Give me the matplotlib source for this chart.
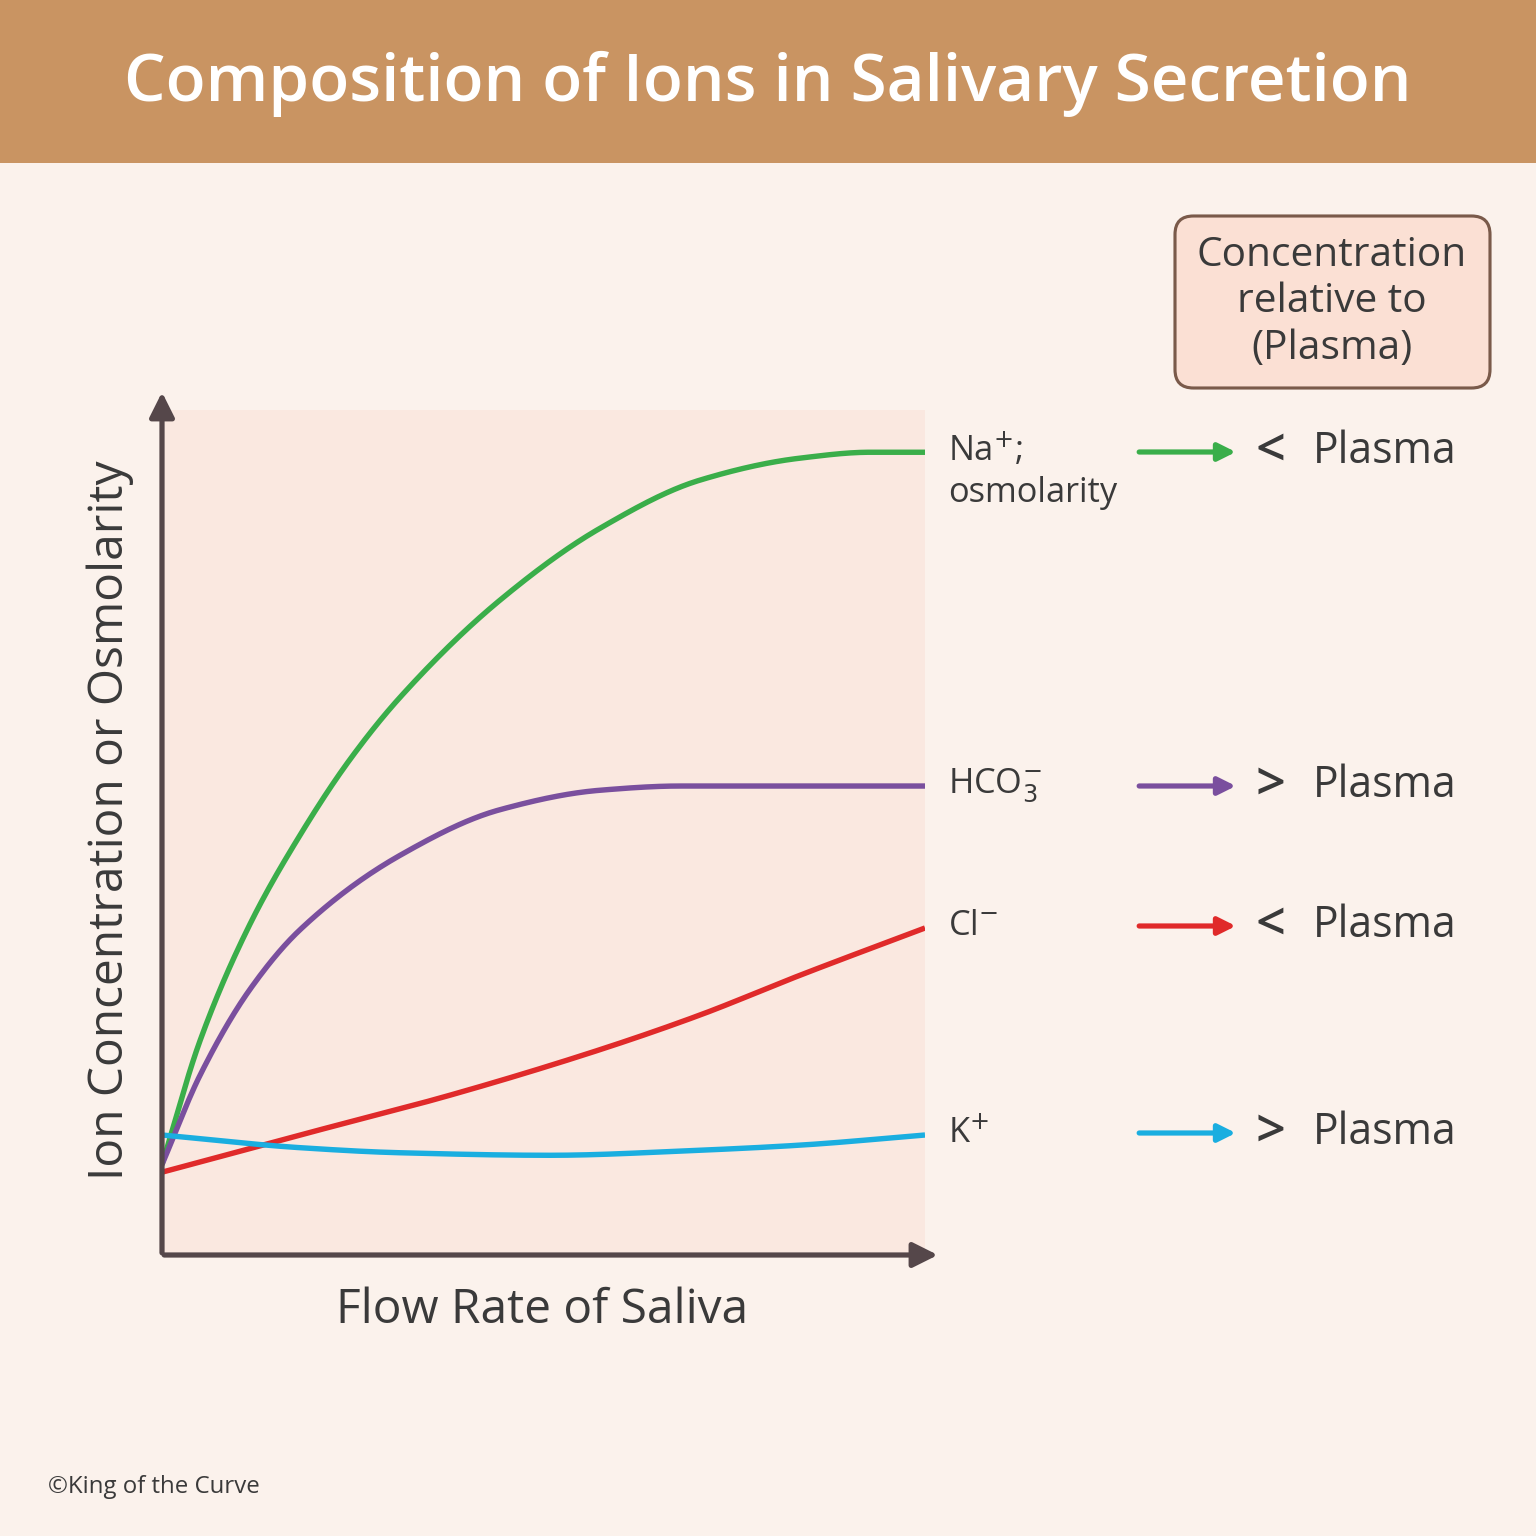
import numpy as np
import matplotlib.pyplot as plt
from matplotlib.patches import FancyBboxPatch, Rectangle, FancyArrowPatch

plt.rcParams['font.family'] = ['Open Sans', 'DejaVu Sans']

# curves (x: flow rate 0..10, y: concentration 0..100)
na_x = [0, 0.50, 1.15, 1.81, 2.46, 3.12, 4.43, 5.74, 7.05, 8.36, 9.28, 10]
na_y = [10.7, 25.4, 39.1, 49.7, 58.6, 66.0, 77.5, 86.0, 91.7, 94.3, 95.0, 95.0]
hco3_x = [0, 0.50, 1.15, 1.81, 3.12, 4.43, 5.74, 6.79, 10]
hco3_y = [10.7, 21.3, 31.4, 38.5, 47.3, 52.7, 55.0, 55.5, 55.5]
cl_x = [0, 1.81, 3.77, 5.74, 7.05, 8.36, 10]
cl_y = [9.8, 14.2, 18.9, 24.3, 28.4, 33.1, 38.7]
k_x = [0, 1.81, 3.12, 5.08, 7.05, 8.36, 10]
k_y = [14.2, 12.7, 12.1, 11.8, 12.4, 13.0, 14.2]

labels = ["Na$^{+}$;\nosmolarity", "HCO$_3^{-}$", "Cl$^{-}$", "K$^{+}$"]
relations = ["<", ">", "<", ">"]
colors = ["#3aae4a", "#7a4f9e", "#e02a2a", "#1aaee0"]
series = [(na_x, na_y), (hco3_x, hco3_y), (cl_x, cl_y), (k_x, k_y)]


def pchip(xs, ys, xx):
    # monotone cubic through the read points, just to draw a smooth line
    x = np.asarray(xs, float)
    y = np.asarray(ys, float)
    h = np.diff(x)
    d = np.diff(y) / h
    m = np.zeros_like(y)
    for i in range(1, len(x) - 1):
        if d[i - 1] * d[i] > 0:
            w1 = 2 * h[i] + h[i - 1]
            w2 = h[i] + 2 * h[i - 1]
            m[i] = (w1 + w2) / (w1 / d[i - 1] + w2 / d[i])
    m[0] = d[0]
    m[-1] = d[-1]
    idx = np.clip(np.searchsorted(x, xx) - 1, 0, len(x) - 2)
    t = (xx - x[idx]) / h[idx]
    h00 = 2 * t**3 - 3 * t**2 + 1
    h10 = t**3 - 2 * t**2 + t
    h01 = -2 * t**3 + 3 * t**2
    h11 = t**3 - t**2
    return h00 * y[idx] + h10 * h[idx] * m[idx] + h01 * y[idx + 1] + h11 * h[idx] * m[idx + 1]


W = 1536
fig = plt.figure(figsize=(10.24, 10.24), dpi=150, facecolor="#fbf2ec")

def fx(px):
    return px / W

def fy(py):
    return 1 - py / W

# header
fig.patches.append(Rectangle((0, fy(163)), 1, 163 / W, transform=fig.transFigure,
                             facecolor="#c99462", edgecolor="none"))
fig.text(0.5, fy(84), "Composition of Ions in Salivary Secretion", ha="center", va="center",
         color="white", fontsize=31.5, fontweight="semibold")

ax = fig.add_axes([fx(162), fy(1255), fx(925 - 162), (1255 - 410) / W])
ax.set_facecolor("#fae8e0")
ax.set_xlim(0, 10)
ax.set_ylim(0, 100)
for s in ax.spines.values():
    s.set_visible(False)
ax.set_xticks([])
ax.set_yticks([])

for (xs, ys), c in zip(series, colors):
    xx = np.linspace(0, 10, 400)
    ax.plot(xx, pchip(xs, ys, xx), color=c, lw=2.6, solid_capstyle="butt")

axis_c = "#55474a"
fig.add_artist(FancyArrowPatch(
    (fx(162), fy(1257)), (fx(162), fy(388)), transform=fig.transFigure,
    arrowstyle="-|>,head_length=10,head_width=5", color=axis_c, lw=2.5))
fig.add_artist(FancyArrowPatch(
    (fx(160), fy(1255)), (fx(942), fy(1255)), transform=fig.transFigure,
    arrowstyle="-|>,head_length=10,head_width=5", color=axis_c, lw=2.5))

fig.text(fx(110), fy(820), "Ion Concentration or Osmolarity", rotation=90, ha="center",
         va="center", fontsize=23, color="#3a3a3a")
fig.text(fx(542), fy(1310), "Flow Rate of Saliva", ha="center", va="center",
         fontsize=23, color="#3a3a3a")

label_y = [452, 786, 926, 1133]
for lab, rel, c, py in zip(labels, relations, colors, label_y):
    multi = "\n" in lab
    fig.text(fx(948), fy(py - 22) if multi else fy(py), lab, ha="left",
             va="top" if multi else "center",
             fontsize=16.5, color="#3a3a3a", linespacing=1.3)
    fig.add_artist(FancyArrowPatch(
        (fx(1135), fy(py)), (fx(1240), fy(py)), transform=fig.transFigure,
        arrowstyle="-|>,head_length=7,head_width=3.5", color=c, lw=2.5))
    fig.text(fx(1255), fy(py), rel, ha="left", va="center", fontsize=25,
             fontweight="semibold", color="#3a3a3a")
    fig.text(fx(1313), fy(py), "Plasma", ha="left", va="center", fontsize=20.5,
             color="#3a3a3a")

fig.patches.append(FancyBboxPatch((fx(1175), fy(388)), fx(315), 172 / W,
                                  boxstyle="round,pad=0,rounding_size=0.012",
                                  transform=fig.transFigure, facecolor="#fbe0d4",
                                  edgecolor="#7a5a4a", lw=1.5))
fig.text(fx(1332), fy(302), "Concentration\nrelative to\n(Plasma)", ha="center", va="center",
         fontsize=19.5, color="#3a3a3a", linespacing=1.2)

fig.text(fx(48), fy(1487), "\u00a9King of the Curve", ha="left", va="center",
         fontsize=11.5, color="#3a3a3a")

fig.savefig("out.png", dpi=150, facecolor=fig.get_facecolor())
